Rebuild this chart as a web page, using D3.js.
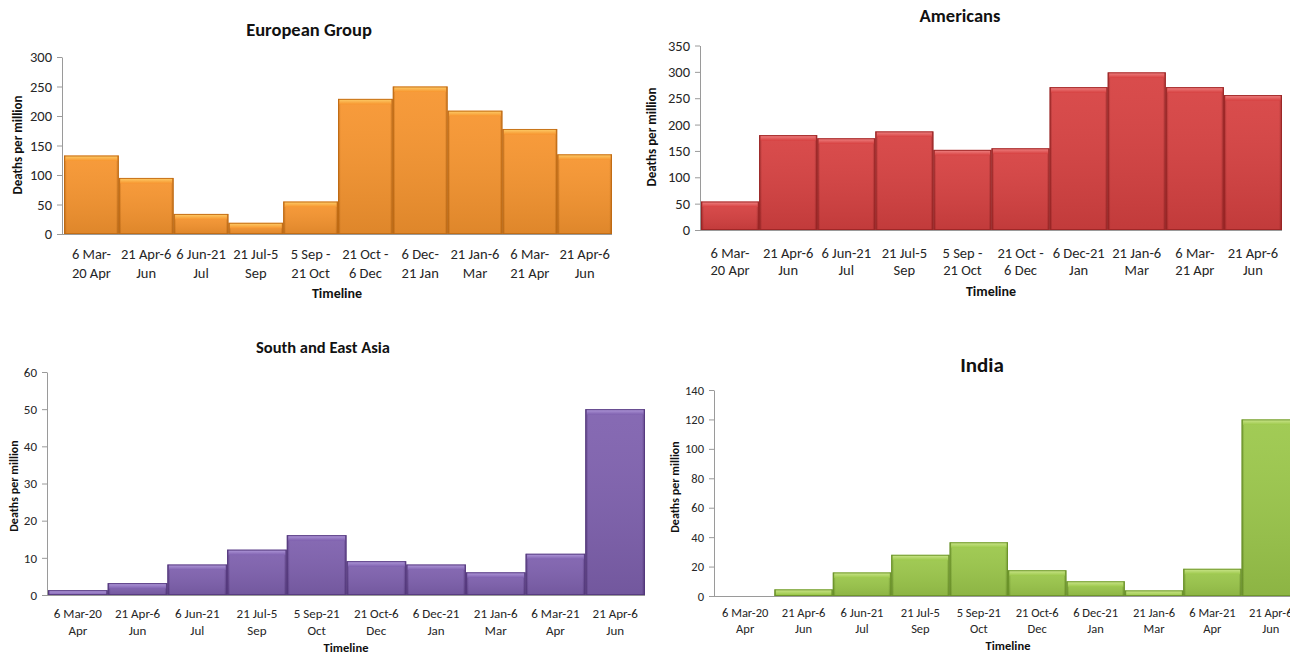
<!DOCTYPE html>
<html>
<head>
<meta charset="utf-8">
<script src="https://cdn.jsdelivr.net/npm/d3@7"></script>
<style>
  html, body { margin: 0; padding: 0; background: #ffffff; }
  svg { display: block; font-family: Carlito, Lato, "Open Sans", sans-serif; }
</style>
</head>
<body>
<svg id="chart" width="1290" height="656"></svg>
<script>
// Ten reporting periods (2020-2021), shared by all four regions
const categories = [
  "6 Mar-20 Apr", "21 Apr-6 Jun", "6 Jun-21 Jul", "21 Jul-5 Sep", "5 Sep-21 Oct",
  "21 Oct-6 Dec", "6 Dec-21 Jan", "21 Jan-6 Mar", "6 Mar-21 Apr", "21 Apr-6 Jun"
];

// Two-line period labels (upper charts)
const labelsUpper = [
  ["6 Mar-", "20 Apr"], ["21 Apr-6", "Jun"], ["6 Jun-21", "Jul"], ["21 Jul-5", "Sep"],
  ["5 Sep -", "21 Oct"], ["21 Oct -", "6 Dec"], ["6 Dec-", "21 Jan"], ["21 Jan-6", "Mar"],
  ["6 Mar-", "21 Apr"], ["21 Apr-6", "Jun"]
];
const labelsAmericas = [
  ["6 Mar-", "20 Apr"], ["21 Apr-6", "Jun"], ["6 Jun-21", "Jul"], ["21 Jul-5", "Sep"],
  ["5 Sep -", "21 Oct"], ["21 Oct -", "6 Dec"], ["6 Dec-21", "Jan"], ["21 Jan-6", "Mar"],
  ["6 Mar-", "21 Apr"], ["21 Apr-6", "Jun"]
];
// Two-line period labels (lower charts)
const labelsLower = [
  ["6 Mar-20", "Apr"], ["21 Apr-6", "Jun"], ["6 Jun-21", "Jul"], ["21 Jul-5", "Sep"],
  ["5 Sep-21", "Oct"], ["21 Oct-6", "Dec"], ["6 Dec-21", "Jan"], ["21 Jan-6", "Mar"],
  ["6 Mar-21", "Apr"], ["21 Apr-6", "Jun"]
];

// Deaths per million in each period
const europeValues   = [133, 95, 34, 19, 55, 229, 250, 209, 178, 135];
const americasValues = [54, 180, 174, 187, 152, 155, 271, 299, 271, 256];
const asiaValues     = [1.3, 3.2, 8.2, 12.2, 16.1, 9.1, 8.2, 6.1, 11.1, 50];
const indiaValues    = [0, 4.5, 16, 28, 36.5, 17.5, 10, 3.8, 18.5, 120];

// Y-axis tick values
const europeTicks   = [0, 50, 100, 150, 200, 250, 300];
const americasTicks = [0, 50, 100, 150, 200, 250, 300, 350];
const asiaTicks     = [0, 10, 20, 30, 40, 50, 60];
const indiaTicks    = [0, 20, 40, 60, 80, 100, 120, 140];

const svg = d3.select("#chart");
const defs = svg.append("defs");

// Bevelled bar shading for each palette
function makePalette(id, body, light, edge) {
  const h = defs.append("linearGradient").attr("id", id + "-body")
    .attr("x1", 0).attr("x2", 1).attr("y1", 0).attr("y2", 0);
  h.append("stop").attr("offset", "0%").attr("stop-color", edge);
  h.append("stop").attr("offset", "5%").attr("stop-color", body);
  h.append("stop").attr("offset", "95%").attr("stop-color", body);
  h.append("stop").attr("offset", "100%").attr("stop-color", edge);

  const v = defs.append("linearGradient").attr("id", id + "-shade")
    .attr("x1", 0).attr("x2", 0).attr("y1", 0).attr("y2", 1);
  v.append("stop").attr("offset", "0%").attr("stop-color", "#ffffff").attr("stop-opacity", 0.06);
  v.append("stop").attr("offset", "100%").attr("stop-color", "#000000").attr("stop-opacity", 0.10);

  const t = defs.append("linearGradient").attr("id", id + "-top")
    .attr("x1", 0).attr("x2", 0).attr("y1", 0).attr("y2", 1);
  t.append("stop").attr("offset", "0%").attr("stop-color", light);
  t.append("stop").attr("offset", "100%").attr("stop-color", body);
  return { id, body, light, edge };
}

const orange = makePalette("orange", "#F7952F", "#FDCB66", "#C06A12");
const red    = makePalette("red",    "#D74141", "#EE8080", "#9A2424");
const purple = makePalette("purple", "#7F61AF", "#AE96D8", "#54377D");
const green  = makePalette("green",  "#9CC84B", "#C9E488", "#6A9228");

function drawPanel(cfg) {
  const g = svg.append("g");
  // periods repeat their names across years, so the band scale is keyed by position
  const idx = d3.range(categories.length);
  const x = d3.scaleBand().domain(idx).range([cfg.x0, cfg.x1]).paddingInner(0).paddingOuter(0);
  const y = d3.scaleLinear().domain([0, cfg.ticks[cfg.ticks.length - 1]]).range([cfg.yZero, cfg.yTop]);

  // y axis
  const yAxis = g.append("g").attr("transform", `translate(${cfg.axisX},0)`)
    .call(d3.axisLeft(y).tickValues(cfg.ticks).tickSize(5).tickPadding(5).tickSizeOuter(0));
  yAxis.select(".domain").attr("stroke", "#9a9a9a");
  yAxis.selectAll(".tick line").attr("stroke", "#9a9a9a");
  yAxis.selectAll(".tick text").attr("fill", "#262626")
    .style("font-size", cfg.tickSize + "px").style("font-family", "Carlito, Lato, sans-serif");

  // bars
  const pal = cfg.palette;
  const bars = g.append("g").selectAll("g.bar")
    .data(idx.map(i => ({ i, c: categories[i], v: cfg.values[i] })))
    .join("g").attr("class", "bar");

  bars.filter(d => d.v > 0).each(function (d) {
    const b = d3.select(this);
    const bx = x(d.i), bw = x.bandwidth();
    const by = y(d.v), bh = y(0) - y(d.v);
    b.append("rect").attr("x", bx).attr("y", by).attr("width", bw).attr("height", bh)
      .attr("fill", `url(#${pal.id}-body)`);
    b.append("rect").attr("x", bx).attr("y", by).attr("width", bw).attr("height", bh)
      .attr("fill", `url(#${pal.id}-shade)`);
    const th = Math.min(5, bh);
    b.append("rect").attr("x", bx + 1.5).attr("y", by + 0.5).attr("width", bw - 3).attr("height", th)
      .attr("fill", `url(#${pal.id}-top)`);
    b.append("rect").attr("x", bx + 0.5).attr("y", by + 0.5).attr("width", bw - 1).attr("height", Math.max(0, bh - 1))
      .attr("fill", "none").attr("stroke", pal.edge).attr("stroke-width", 1).attr("stroke-opacity", 0.85);
  });

  // x axis baseline
  g.append("line").attr("x1", cfg.axisX).attr("x2", cfg.x1)
    .attr("y1", y(0) + 0.5).attr("y2", y(0) + 0.5).attr("stroke", "#9a9a9a");

  // period labels
  const lab = g.append("g").selectAll("text")
    .data(idx.map(i => ({ i, lines: cfg.labels[i] })))
    .join("text")
    .attr("text-anchor", "middle")
    .attr("fill", "#262626")
    .style("font-size", cfg.labelSize + "px");
  lab.each(function (d) {
    const t = d3.select(this);
    d.lines.forEach((ln, k) => {
      t.append("tspan").attr("x", x(d.i) + x.bandwidth() / 2)
        .attr("y", cfg.labelY + k * cfg.labelGap).text(ln);
    });
  });

  // titles
  g.append("text").attr("x", cfg.titleX).attr("y", cfg.titleY).attr("text-anchor", "middle")
    .attr("fill", "#111").style("font-weight", "bold").style("font-size", cfg.titleSize + "px")
    .text(cfg.title);
  g.append("text").attr("x", cfg.xTitleX).attr("y", cfg.xTitleY).attr("text-anchor", "middle")
    .attr("fill", "#111").style("font-weight", "bold").style("font-size", cfg.axisTitleSize + "px")
    .text("Timeline");
  g.append("text")
    .attr("transform", `translate(${cfg.yTitleX},${cfg.yTitleY}) rotate(-90)`)
    .attr("text-anchor", "middle").attr("fill", "#111")
    .style("font-weight", "bold").style("font-size", cfg.yTitleSize + "px")
    .text("Deaths per million");
}

drawPanel({
  title: "European Group", values: europeValues, ticks: europeTicks, labels: labelsUpper, palette: orange,
  x0: 64, x1: 612, axisX: 62, yZero: 234, yTop: 57,
  titleX: 309, titleY: 36, titleSize: 18.5,
  labelY: 259, labelGap: 19, labelSize: 14.5, tickSize: 14.5,
  xTitleX: 337, xTitleY: 298, axisTitleSize: 14,
  yTitleX: 22, yTitleY: 145, yTitleSize: 13
});

drawPanel({
  title: "Americans", values: americasValues, ticks: americasTicks, labels: labelsAmericas, palette: red,
  x0: 701, x1: 1282, axisX: 700, yZero: 230, yTop: 45.5,
  titleX: 960, titleY: 22, titleSize: 18.5,
  labelY: 258, labelGap: 17, labelSize: 14.5, tickSize: 14.5,
  xTitleX: 991, xTitleY: 296, axisTitleSize: 14,
  yTitleX: 656, yTitleY: 137, yTitleSize: 13
});

drawPanel({
  title: "South and East Asia", values: asiaValues, ticks: asiaTicks, labels: labelsLower, palette: purple,
  x0: 48, x1: 645, axisX: 47, yZero: 595, yTop: 372,
  titleX: 323, titleY: 353, titleSize: 16.5,
  labelY: 618, labelGap: 17, labelSize: 13, tickSize: 13,
  xTitleX: 346, xTitleY: 652, axisTitleSize: 12.5,
  yTitleX: 18, yTitleY: 486, yTitleSize: 12
});

drawPanel({
  title: "India", values: indiaValues, ticks: indiaTicks, labels: labelsLower, palette: green,
  x0: 716, x1: 1300, axisX: 714, yZero: 596, yTop: 390,
  titleX: 982, titleY: 372, titleSize: 21,
  labelY: 617, labelGap: 16, labelSize: 12.5, tickSize: 12.5,
  xTitleX: 1008, xTitleY: 650, axisTitleSize: 12.5,
  yTitleX: 679, yTitleY: 487, yTitleSize: 12
});
</script>
</body>
</html>
